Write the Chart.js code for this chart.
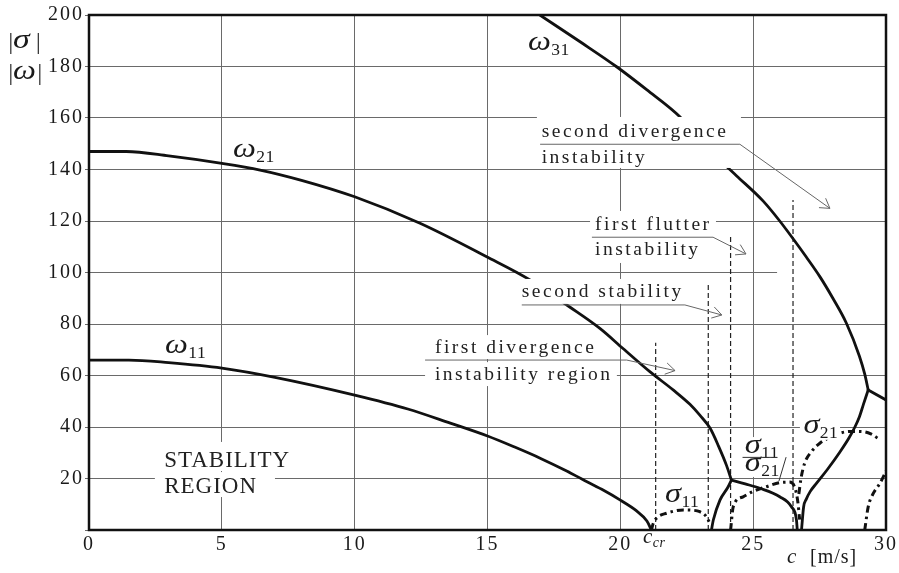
<!DOCTYPE html>
<html><head><meta charset="utf-8">
<script src="https://cdn.jsdelivr.net/npm/chart.js@4.4.1/dist/chart.umd.min.js"></script>
<style>html,body{margin:0;padding:0;background:#fff}#wrap{width:899px;height:573px}</style>
</head><body><div id="wrap"><canvas id="c" width="899" height="573"></canvas></div>
<script>
// ---------- data ----------
const xMin = 0, xMax = 30, xStep = 5;
const yMin = 0, yMax = 200, yStep = 20;

// omega11: first branch, from c=0 down to c_cr
const w11C = [0, 1.5, 3, 5, 7, 10, 12, 13.6, 15, 16, 17, 18, 18.55, 19.3, 20, 20.6, 21.0, 21.17];
const w11V = [66, 66, 65, 62.9, 59.3, 52.4, 47, 41.5, 36.5, 32.3, 27.8, 22.8, 19.8, 15.8, 11.6, 7.5, 3.5, 0];
// omega11: second branch rising to the coalescence node
const w11bC = [23.43, 23.5, 23.75, 24.06, 24.18];
const w11bV = [0, 3.9, 11.6, 16.8, 19.4];
// omega21: from c=0 to the node
const w21C = [0, 1.4, 3, 5, 6.44, 8, 10, 12.46, 14.97, 16.6, 18.04, 19.23, 20.1, 21.11, 22.0, 22.62, 23.0, 23.38, 23.7, 24.0, 24.18];
const w21V = [147, 147, 145.3, 142.4, 139.8, 135.8, 129.4, 119.1, 106.1, 97.1, 87.0, 78.3, 70.5, 61.5, 54.3, 48.8, 44.5, 39.5, 32.5, 25, 19.4];
// merged branch after the node, down to zero
const w21aC = [24.18, 24.7, 25.25, 26.0, 26.44, 26.63, 26.66];
const w21aV = [19.4, 17.9, 16.2, 12.9, 9.0, 3.9, 0];
// branch rising from zero to the second node
const w21bC = [26.82, 26.9, 27.0, 27.15, 27.38, 27.8, 28.26, 28.6, 28.83, 29.0, 29.15, 29.33];
const w21bV = [0, 9, 12, 15, 18.1, 23.6, 30.2, 35.6, 40, 44, 48.8, 54.4];
// merged branch after the second node
const w3eC = [29.33, 30];
const w3eV = [54.4, 50.5];
// omega31
const w31C = [16.97, 18.5, 19.86, 20.99, 22.24, 23.31, 24.37, 25.37, 26.0, 26.51, 27.0, 27.51, 28.0, 28.51, 29.0, 29.2, 29.33];
const w31V = [200, 189.5, 179.9, 171, 160.5, 148, 137.6, 127.8, 120, 113, 106, 98.4, 90, 80.3, 67.5, 60.5, 54.4];
// sigma11 (first flutter arc)
const s11C = [21.17, 21.24, 21.43, 21.74, 22.05, 22.37, 22.7, 22.99, 23.24, 23.34];
const s11V = [0, 2.6, 5.2, 6.5, 7.4, 7.8, 7.7, 7.1, 5.2, 3.2];
// sigma11 / sigma21 arc
const s1121C = [24.15, 24.25, 24.62, 25.0, 25.5, 26.0, 26.35, 26.55, 26.68, 26.75];
const s1121V = [0, 9, 12.9, 15, 16.8, 18.4, 18.6, 17, 11, 4];
// sigma21 arcs
const s21C = [26.72, 26.8, 26.94, 27.2, 27.51, 27.9, 28.26, 28.7, 29.14, 29.45, 29.7];
const s21V = [14, 20, 26, 30.5, 33.7, 36, 37.6, 38.3, 38.2, 37.2, 35.6];
const s21bC = [29.2, 29.33, 29.52, 29.77, 29.96, 30];
const s21bV = [0, 9, 14.2, 18.1, 22, 23];
// dashed boundary markers: c positions and heights
const markC = [21.33, 23.31, 24.15, 26.5];
const markTop = [72.7, 95.1, 114.6, 128.2];

// ---------- helpers ----------
const SERIF = "'Liberation Serif','Times New Roman',serif";
const pts = (cs, vs) => cs.map((c, i) => ({x: c, y: vs[i]}));

const solid = (d) => ({data: d, borderColor: '#111', borderWidth: 2.8, pointRadius: 0, fill: false,
  cubicInterpolationMode: 'monotone', borderCapStyle: 'round', borderJoinStyle: 'round'});
const dashed = (d) => ({data: d, borderColor: '#111', borderWidth: 3, pointRadius: 0, fill: false,
  cubicInterpolationMode: 'monotone', borderDash: [7, 4, 2.5, 4], borderCapStyle: 'butt'});
const marker = (c, top) => ({data: [{x: c, y: 0}, {x: c, y: top}], borderColor: '#222', borderWidth: 1.2,
  pointRadius: 0, fill: false, tension: 0, borderDash: [5, 3]});

const datasets = [
  solid(pts(w11C, w11V)), solid(pts(w11bC, w11bV)), solid(pts(w21C, w21V)), solid(pts(w21aC, w21aV)),
  solid(pts(w21bC, w21bV)), solid(pts(w3eC, w3eV)), solid(pts(w31C, w31V)),
  dashed(pts(s11C, s11V)), dashed(pts(s1121C, s1121V)), dashed(pts(s21C, s21V)), dashed(pts(s21bC, s21bV)),
  ...markC.map((c, i) => marker(c, markTop[i]))
];

// annotation layout (data coordinates)
const notes = [
  {lines: [['second divergence', 17.04, 152.7], ['instability', 17.04, 142.6]],
   boxes: [[16.86, 160.4, 24.54, 140.6]], leader: [[16.98, 149.8], [24.5, 149.8], [27.89, 124.9]]},
  {lines: [['first flutter', 19.05, 116.5], ['instability', 19.05, 106.8]],
   boxes: [[18.86, 123.9, 23.6, 103.7]], leader: [[18.93, 113.7], [23.49, 113.7], [24.73, 107.2]]},
  {lines: [['second stability', 16.29, 90.6]],
   boxes: [[16.15, 97.5, 22.32, 87.8]], leader: [[16.29, 87.4], [22.43, 87.4], [23.82, 83.5]]},
  {lines: [['first divergence', 13.02, 68.6], ['instability region', 13.02, 58.3]],
   boxes: [[12.84, 75.7, 19.23, 66.4], [12.65, 65.2, 19.87, 55.9]], leader: [[12.65, 66.0], [20.24, 66.0], [22.06, 61.9]]}
];
const greek = [
  ['ω', '31', 16.52, 186.4], ['ω', '21', 5.42, 144.9], ['ω', '11', 2.86, 68.7],
  ['σ', '11', 21.68, 11.0], ['σ', '21', 26.89, 37.7]
];

function text(ctx, s, x, y, size, italic, ls, color, sx) {
  ctx.save();
  ctx.font = (italic ? 'italic ' : '') + size + 'px ' + SERIF;
  ctx.letterSpacing = ls + 'px';
  ctx.fillStyle = color || '#222';
  ctx.textAlign = 'left';
  ctx.textBaseline = 'alphabetic';
  ctx.translate(x, y);
  ctx.scale(sx || 1, 1);
  ctx.fillText(s, 0, 0);
  const w = ctx.measureText(s).width * (sx || 1);
  ctx.restore();
  return w;
}
function symbol(ctx, main, sub, x, y) {
  const w = text(ctx, main, x, y, 27, true, 0, '#1a1a1a', 1.2);
  text(ctx, sub, x + w + 0.5, y + 5, 17.5, false, 0.5, '#1a1a1a');
}
function whiteBox(ctx, X, Y, b) {
  ctx.fillStyle = '#fff';
  const x1 = X(b[0]), y1 = Y(b[1]), x2 = X(b[2]), y2 = Y(b[3]);
  ctx.fillRect(x1, y1, x2 - x1, y2 - y1);
}
function arrowHead(ctx, x0, y0, x1, y1) {
  const a = Math.atan2(y1 - y0, x1 - x0), L = 11, h = 0.55;
  ctx.beginPath();
  ctx.moveTo(x1 - L * Math.cos(a - h), y1 - L * Math.sin(a - h));
  ctx.lineTo(x1, y1);
  ctx.lineTo(x1 - L * Math.cos(a + h), y1 - L * Math.sin(a + h));
  ctx.stroke();
}

const annot = {
  id: 'annot',
  beforeDraw(chart) { chart.ctx.letterSpacing = '2px'; },
  beforeDatasetsDraw(chart) {
    const ctx = chart.ctx, X = v => chart.scales.x.getPixelForValue(v), Y = v => chart.scales.y.getPixelForValue(v);
    ctx.save();
    // the 100 grid line stops short of the right edge
    ctx.strokeStyle = '#fff'; ctx.lineWidth = 3;
    ctx.beginPath(); ctx.moveTo(X(25.9), Y(100)); ctx.lineTo(chart.chartArea.right - 1, Y(100)); ctx.stroke();
    ctx.restore();
  },
  afterDatasetsDraw(chart) {
    const ctx = chart.ctx, X = v => chart.scales.x.getPixelForValue(v), Y = v => chart.scales.y.getPixelForValue(v);
    const ca = chart.chartArea;
    ctx.save();
    // text notes
    notes.forEach(n => {
      n.boxes.forEach(b => whiteBox(ctx, X, Y, b));
      n.lines.forEach(l => text(ctx, l[0], X(l[1]), Y(l[2]), 19.5, false, 2.5, '#222'));
      ctx.strokeStyle = '#666'; ctx.lineWidth = 1; ctx.setLineDash([]);
      ctx.beginPath();
      n.leader.forEach((p, i) => i ? ctx.lineTo(X(p[0]), Y(p[1])) : ctx.moveTo(X(p[0]), Y(p[1])));
      ctx.stroke();
      const k = n.leader.length;
      arrowHead(ctx, X(n.leader[k - 2][0]), Y(n.leader[k - 2][1]), X(n.leader[k - 1][0]), Y(n.leader[k - 1][1]));
    });
    // stability region
    whiteBox(ctx, X, Y, [2.52, 34.2, 7.79, 22.9]);
    whiteBox(ctx, X, Y, [2.48, 22.5, 7.0, 12.8]);
    text(ctx, 'STABILITY', X(2.83), Y(24.35), 23, false, 1, '#222');
    text(ctx, 'REGION', X(2.83), Y(14.25), 23, false, 1, '#222');
    // greek labels
    whiteBox(ctx, X, Y, [26.76, 43.5, 28.27, 35.0]);
    greek.forEach(g => symbol(ctx, g[0], g[1], X(g[2]), Y(g[3])));
    // sigma11 / sigma21 fraction
    whiteBox(ctx, X, Y, [24.5, 36.1, 26.23, 20.6]);
    symbol(ctx, 'σ', '11', X(24.68), Y(29.8));
    symbol(ctx, 'σ', '21', X(24.68), Y(23.0));
    ctx.strokeStyle = '#333'; ctx.lineWidth = 1;
    ctx.beginPath(); ctx.moveTo(X(24.6), Y(28.2)); ctx.lineTo(X(25.91), Y(28.2)); ctx.stroke();
    ctx.beginPath(); ctx.moveTo(X(26.24), Y(28.3)); ctx.lineTo(X(25.97), Y(19.0)); ctx.stroke();
    // frame
    ctx.strokeStyle = '#111'; ctx.lineWidth = 2.5;
    ctx.strokeRect(ca.left, ca.top, ca.right - ca.left, ca.bottom - ca.top);
    // c_cr under the axis
    const wc = text(ctx, 'c', X(20.85), Y(-5.05), 21, true, 0, '#1a1a1a');
    text(ctx, 'cr', X(20.85) + wc + 0.5, Y(-5.05) + 4, 14, true, 0.5, '#1a1a1a');
    // x title
    text(ctx, 'c', X(26.27), Y(-12.8), 21, true, 0, '#1a1a1a');
    text(ctx, '[m/s]', X(27.14), Y(-12.8), 20, false, 1, '#1a1a1a');
    // y title
    const L = ca.left;
    text(ctx, '|', L - 80.5, 49, 23, false, 0, '#1a1a1a');
    text(ctx, 'σ', L - 76, 48, 27, true, 0, '#1a1a1a', 1.25);
    text(ctx, '|', L - 53, 49, 23, false, 0, '#1a1a1a');
    text(ctx, '|', L - 80.5, 80, 23, false, 0, '#1a1a1a');
    text(ctx, 'ω', L - 76, 79, 27, true, 0, '#1a1a1a', 1.2);
    text(ctx, '|', L - 51.5, 80, 23, false, 0, '#1a1a1a');
    ctx.restore();
  }
};

new Chart(document.getElementById('c'), {
  type: 'line',
  data: {datasets},
  options: {
    responsive: false, animation: false, devicePixelRatio: 1,
    layout: {padding: {top: 15, right: 13, left: 0, bottom: 0}},
    plugins: {legend: {display: false}, tooltip: {enabled: false}},
    scales: {
      x: {type: 'linear', min: xMin, max: xMax,
        ticks: {stepSize: xStep, color: '#1a1a1a', padding: 3, font: {family: SERIF, size: 20}, maxRotation: 0},
        grid: {color: '#6a6a6a', lineWidth: 1, drawTicks: false},
        border: {display: false},
        afterFit: s => { s.height = 43; }},
      y: {type: 'linear', min: yMin, max: yMax,
        ticks: {stepSize: yStep, color: '#1a1a1a', padding: 1, font: {family: SERIF, size: 20},
          callback: v => v === 0 ? '' : v},
        grid: {color: '#6a6a6a', lineWidth: 1, tickLength: 4},
        border: {display: false},
        afterFit: s => { s.width = 89; }}
    }
  },
  plugins: [annot]
});
</script></body></html>
